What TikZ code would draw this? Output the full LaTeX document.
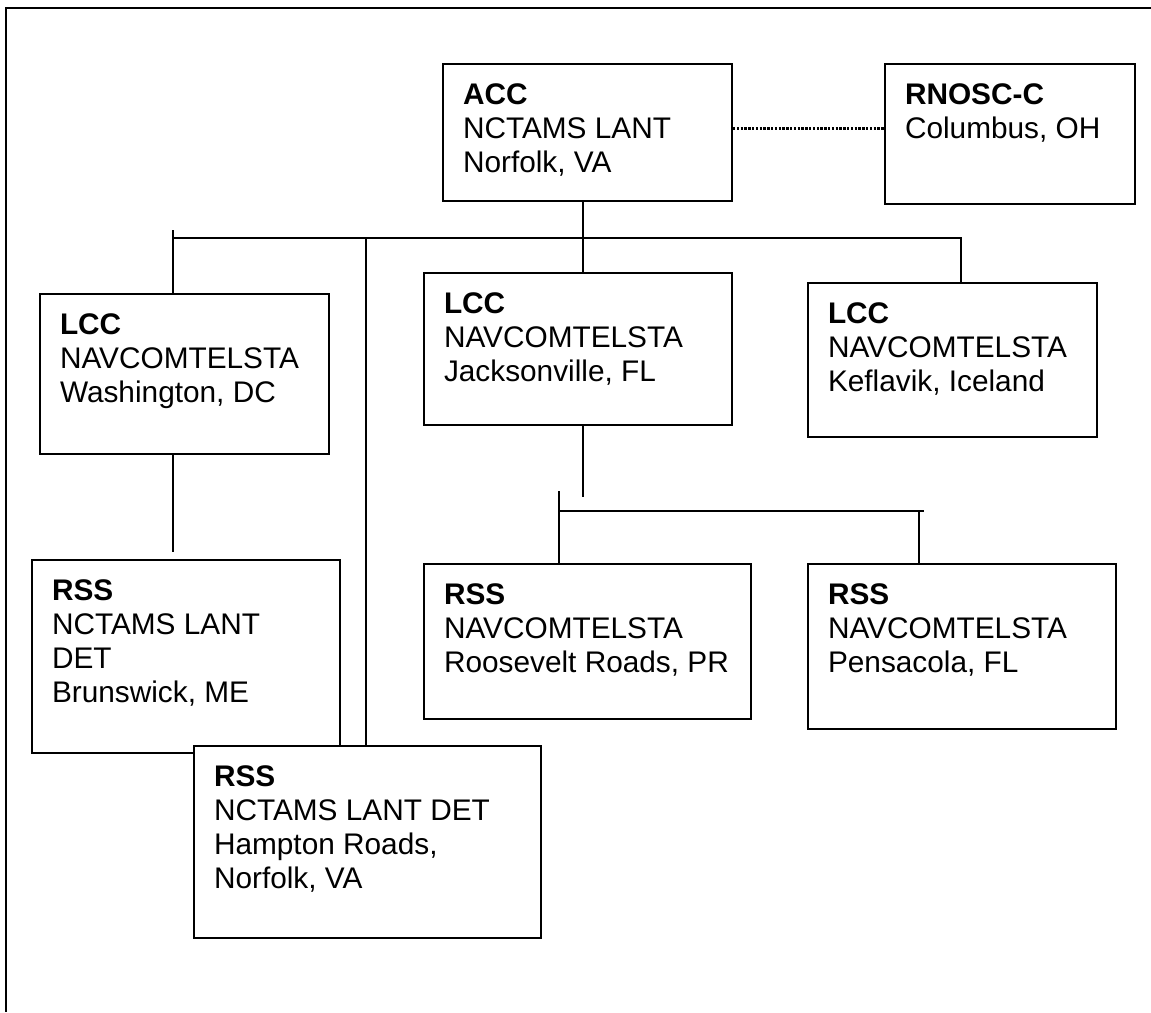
\documentclass[tikz,border=0pt]{standalone}
\usepackage{fontspec}
\setmainfont{Liberation Sans}
\usepackage{tikz}
\usetikzlibrary{positioning}

\begin{document}
\begin{tikzpicture}[
    x=1pt, y=-1pt,
    every node/.style={font=\fontsize{29.8}{34}\selectfont},
    box/.style={draw, line width=2pt, fill=white, inner sep=20pt, anchor=north west},
    ln/.style={line width=2pt},
    dotln/.style={line width=3pt, dash pattern=on 2.4pt off 1.4pt}
]
\useasboundingbox (0,0) rectangle (1151,1012);
\draw[ln] (1151,8) -- (6,8) -- (6,1012);

\node[box] (acc) at (442,63) {\parbox[c][97pt][t]{249pt}{\textbf{ACC}\\NCTAMS LANT\\Norfolk, VA}};
\node[box] (rnosc) at (884,63) {\parbox[c][100pt][t]{210pt}{\textbf{RNOSC-C}\\Columbus, OH}};
\node[box] (lccdc) at (39,293) {\parbox[c][120pt][t]{249pt}{\textbf{LCC}\\NAVCOMTELSTA\\Washington, DC}};
\node[box] (lccjax) at (423,272) {\parbox[c][112pt][t]{268pt}{\textbf{LCC}\\NAVCOMTELSTA\\Jacksonville, FL}};
\node[box] (lcckef) at (807,282) {\parbox[c][114pt][t]{249pt}{\textbf{LCC}\\NAVCOMTELSTA\\Keflavik, Iceland}};
\node[box] (rssbru) at (31,559) {\parbox[c][153pt][t]{268pt}{\textbf{RSS}\\NCTAMS LANT\\DET\\Brunswick, ME}};
\node[box] (rssham) at (193,745) {\parbox[c][152pt][t]{307pt}{\textbf{RSS}\\NCTAMS LANT DET\\Hampton Roads,\\Norfolk, VA}};
\node[box] (rssroo) at (423,563) {\parbox[c][115pt][t]{287pt}{\textbf{RSS}\\NAVCOMTELSTA\\Roosevelt Roads, PR}};
\node[box] (rsspen) at (807,563) {\parbox[c][125pt][t]{268pt}{\textbf{RSS}\\NAVCOMTELSTA\\Pensacola, FL}};

% bus lines
\coordinate (hub) at (583,238);
\coordinate (busL) at (173,238);
\coordinate (busR) at (961,238);
\coordinate (hamtap) at (366,238);
\coordinate (subL) at (559,511);
\coordinate (subR) at (919,511);

\draw[dotln] ([yshift=4.5pt]acc.east) -- ([yshift=4.5pt]acc.east -| rnosc.west);
\draw[ln] (acc.south -| hub) -- (lccjax.north -| hub);
\draw[ln] (busL) -- (busR) -- (busR |- lcckef.north);
\draw[ln] ([yshift=8pt]busL) -- (busL |- lccdc.north);
\draw[ln] (hamtap) -- (hamtap |- rssham.north);
\draw[ln] (busL |- lccdc.south) -- ([yshift=7pt]busL |- rssbru.north);

\draw[ln] (hub |- lccjax.south) -- ([yshift=14pt]hub |- subL);
\draw[ln] ([yshift=20pt]subL) -- (subL |- rssroo.north);
\draw[ln] (subL) -- ([xshift=5pt]subR);
\draw[ln] (subR) -- (subR |- rsspen.north);
\end{tikzpicture}
\end{document}
